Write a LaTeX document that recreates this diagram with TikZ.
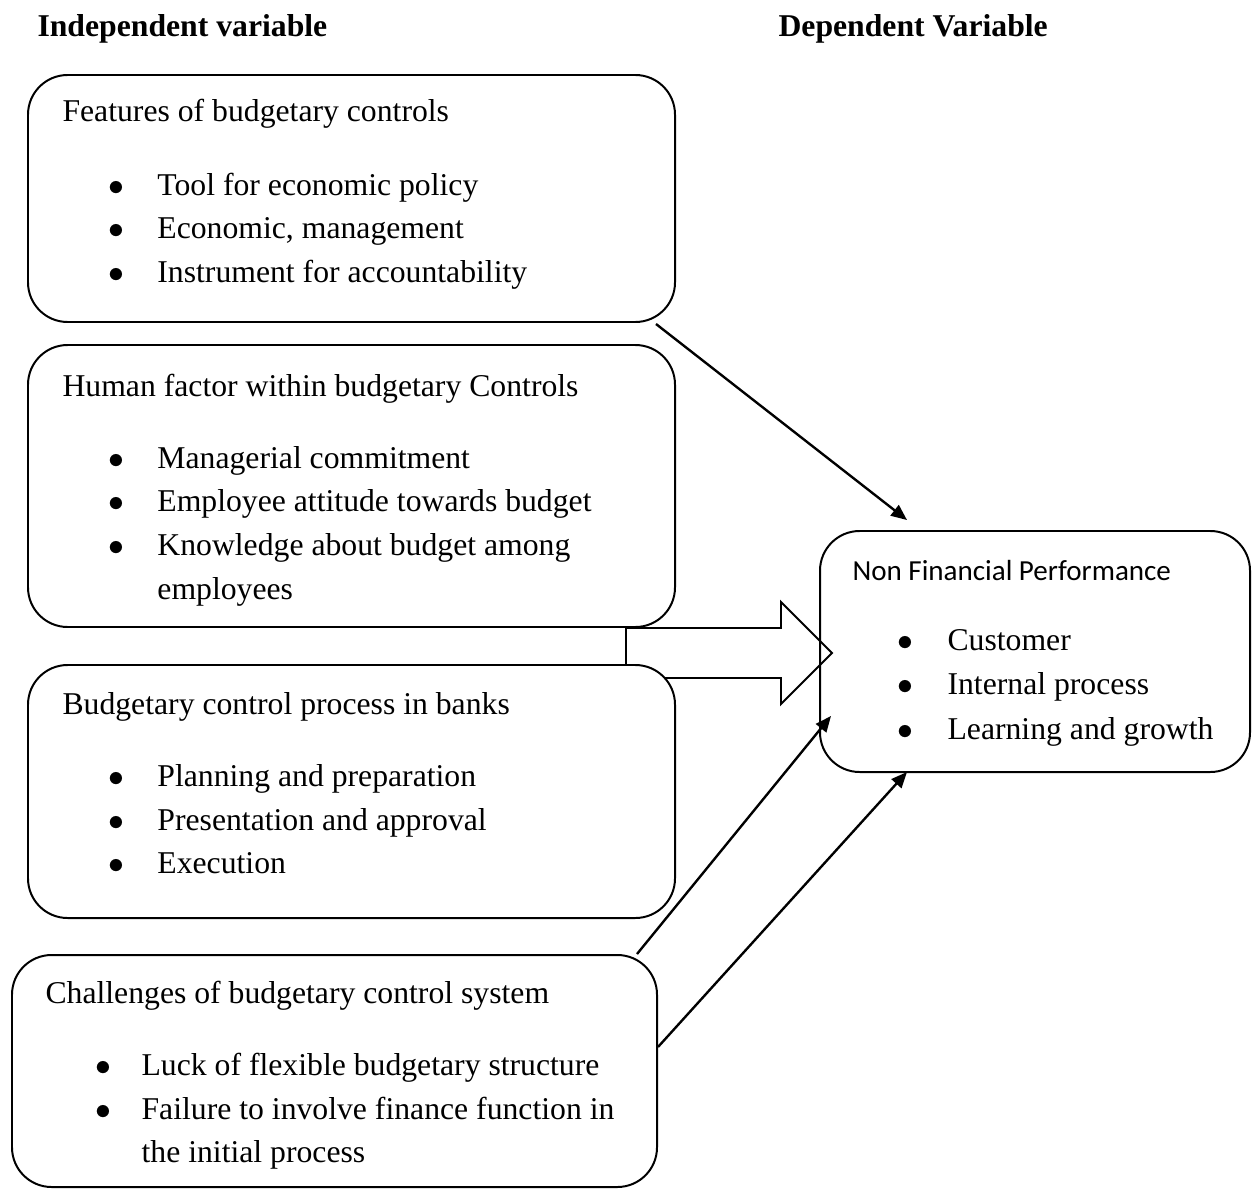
\documentclass[tikz,border=0pt]{standalone}
\usepackage{fontspec}
\setmainfont{Liberation Serif}
\newfontfamily\calibri{Carlito}
\usetikzlibrary{arrows.meta,calc}
\newcommand{\px}{0.3785pt}
\newcommand{\itm}[1][31pt]{\makebox[#1][c]{$\bullet$}}

\begin{document}
\begin{tikzpicture}[x=\px,y=-\px,>={Triangle[length=6pt,width=5pt]},
    box/.style 2 args={draw,line width=0.75pt,rounded corners=15pt,fill=white,
                       inner sep=0pt,minimum width=#1*\px,minimum height=#2*\px},
    txt/.style={anchor=base west,inner sep=0pt,font=\fontsize{12}{16.65}\selectfont},
    head/.style={txt,font=\bfseries\fontsize{12}{16.65}\selectfont},
    link/.style={->,line width=0.9pt}]

  \useasboundingbox (0,0) rectangle (1253,1188);

  \node[head] (indep) at (37,37)  {Independent variable};
  \node[head] (dep)   at (778,37) {Dependent Variable};

  \node[box={647}{247}] (feat) at (351.5,198.5) {};
  \node[box={647}{282}] (hum)  at (351.5,486)   {};

  % block arrow, partly hidden by the next box
  \draw[line width=0.75pt,fill=white] ($(hum.south east)+(-50,0)$) -- ++(155,0)
        -- ++(0,-26) -- ++(51,51) -- ++(-51,51) -- ++(0,-26) -- ++(-155,0) -- cycle;

  \node[box={647}{253}] (proc) at (351.5,791.5) {};
  \node[box={645}{232}] (chal) at (334.5,1071)  {};
  \node[box={430}{241},fill=none] (nfp) at (1035,651.5) {};

  \node[txt] (ftitle) at (62,122) {Features of budgetary controls};
  \node[txt] (flist)  at (75,195) {\begin{tabular}[t]{@{}l@{}}
      \itm Tool for economic policy\\
      \itm Economic, management\\
      \itm Instrument for accountability\end{tabular}};

  \node[txt] (htitle) at (62,396) {Human factor within budgetary Controls};
  \node[txt] (hlist)  at (75,468) {\begin{tabular}[t]{@{}l@{}}
      \itm Managerial commitment\\
      \itm Employee attitude towards budget\\
      \itm Knowledge about budget among\\
      \hspace{31pt}employees\end{tabular}};

  \node[txt] (ptitle) at (62,714) {Budgetary control process in banks};
  \node[txt] (plist)  at (75,786) {\begin{tabular}[t]{@{}l@{}}
      \itm Planning and preparation\\
      \itm Presentation and approval\\
      \itm Execution\end{tabular}};

  \node[txt] (ctitle) at (45,1003) {Challenges of budgetary control system};
  \node[txt] (clist)  at (65,1075) {\begin{tabular}[t]{@{}l@{}}
      \itm[28.8pt]Luck of flexible budgetary structure\\
      \itm[28.8pt]Failure to involve finance function in\\
      \hspace{28.8pt}the initial process\end{tabular}};

  \node[txt,font=\calibri\fontsize{11}{13}\selectfont] (ntitle) at (852,580)
      {Non Financial Performance};
  \node[txt,font=\fontsize{12}{17}\selectfont] (nlist) at (863,650)
      {\begin{tabular}[t]{@{}l@{}}
      \itm[31.8pt]Customer\\
      \itm[31.8pt]Internal process\\
      \itm[31.8pt]Learning and growth\end{tabular}};

  \draw[link] ($(feat.south east)+(-20,1)$) -- ($(nfp.north west)+(88,-10)$);
  \draw[link] ($(chal.north east)+(-21,0)$) -- ($(nfp.south west)+(12,-57)$);
  \draw[link] ($(chal.east)+(0,-24)$)       -- ($(nfp.south west)+(88,-1)$);

\end{tikzpicture}
\end{document}
